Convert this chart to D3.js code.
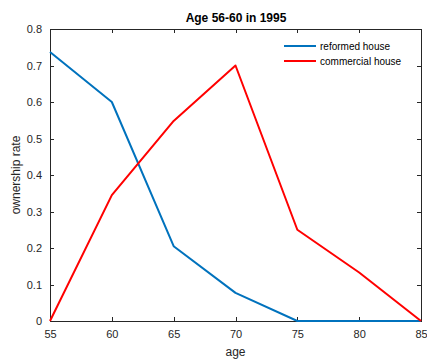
<!DOCTYPE html>
<html>
<head>
<meta charset="utf-8">
<script src="https://cdn.jsdelivr.net/npm/d3@7"></script>
<style>
  html, body { margin: 0; padding: 0; background: #fff; }
  svg { display: block; font-family: "Liberation Sans", Arial, Helvetica, sans-serif; }
</style>
</head>
<body>
<svg id="chart" width="427" height="362"></svg>
<script>
// Home ownership rate by age, cohort aged 56-60 in 1995
const ages = [55, 60, 65, 70, 75, 80, 85];
const reformed = [0.737, 0.600, 0.205, 0.077, 0.0, 0.0, 0.0];
const commercial = [0.0, 0.345, 0.548, 0.700, 0.250, 0.133, 0.0];
const seriesNames = ["reformed house", "commercial house"];
const seriesColors = ["#0072BD", "#FF0000"];
const xTicks = [55, 60, 65, 70, 75, 80, 85];
const yTicks = [0, 0.1, 0.2, 0.3, 0.4, 0.5, 0.6, 0.7, 0.8];

const svg = d3.select("#chart");
const m = { left: 50, right: 421, top: 29, bottom: 321 };
const axisColor = "#262626";

const x = d3.scaleLinear().domain([55, 85]).range([m.left, m.right]);
const y = d3.scaleLinear().domain([0, 0.8]).range([m.bottom, m.top]);

// box
svg.append("rect")
  .attr("x", m.left).attr("y", m.top)
  .attr("width", m.right - m.left).attr("height", m.bottom - m.top)
  .attr("fill", "#fff").attr("stroke", axisColor).attr("stroke-width", 1).attr("shape-rendering", "crispEdges");

const tickLen = 4;
function styleAxis(g) {
  g.select(".domain").remove();
  g.selectAll(".tick line").attr("stroke", axisColor).attr("shape-rendering", "crispEdges");
  g.selectAll(".tick text").attr("fill", axisColor).attr("font-size", 11).attr("font-family", "Liberation Sans, Arial, sans-serif");
}

// bottom and left axes with inward ticks
svg.append("g").attr("transform", `translate(0,${m.bottom})`)
  .call(d3.axisBottom(x).tickValues(xTicks).tickSizeInner(-tickLen).tickSizeOuter(0).tickPadding(9).tickFormat(d3.format("d")))
  .call(styleAxis);
svg.append("g").attr("transform", `translate(${m.left},0)`)
  .call(d3.axisLeft(y).tickValues(yTicks).tickSizeInner(-tickLen).tickSizeOuter(0).tickPadding(8).tickFormat(d => d === 0 ? "0" : d3.format(".1f")(d)))
  .call(styleAxis);
// top and right mirrored ticks
svg.append("g").attr("transform", `translate(0,${m.top})`)
  .call(d3.axisTop(x).tickValues(xTicks).tickSizeInner(-tickLen).tickSizeOuter(0).tickFormat(""))
  .call(styleAxis);
svg.append("g").attr("transform", `translate(${m.right},0)`)
  .call(d3.axisRight(y).tickValues(yTicks).tickSizeInner(-tickLen).tickSizeOuter(0).tickFormat(""))
  .call(styleAxis);

// lines
const line = d3.line().x((d, i) => x(ages[i])).y(d => y(d));
[reformed, commercial].forEach((vals, k) => {
  svg.append("path")
    .datum(vals)
    .attr("d", line)
    .attr("fill", "none")
    .attr("stroke", seriesColors[k])
    .attr("stroke-width", 2)
    .attr("stroke-linejoin", "round");
});

// title and axis labels
svg.append("text").attr("x", (m.left + m.right) / 2 + 0.5).attr("y", 22)
  .attr("text-anchor", "middle").attr("font-size", 12).attr("font-weight", "bold").attr("fill", "#000")
  .text("Age 56-60 in 1995");
svg.append("text").attr("x", (m.left + m.right) / 2).attr("y", 356)
  .attr("text-anchor", "middle").attr("font-size", 12).attr("fill", axisColor)
  .text("age");
svg.append("text").attr("transform", `translate(20,${(m.top + m.bottom) / 2}) rotate(-90)`)
  .attr("text-anchor", "middle").attr("font-size", 12).attr("fill", axisColor)
  .text("ownership rate");

// legend
const lg = svg.append("g");
seriesNames.forEach((name, k) => {
  const ly = 46 + k * 15;
  lg.append("line").attr("x1", 284).attr("x2", 316).attr("y1", ly).attr("y2", ly)
    .attr("stroke", seriesColors[k]).attr("stroke-width", 2);
  lg.append("text").attr("x", 320).attr("y", ly + 3.5).attr("font-size", 10).attr("fill", "#000")
    .text(name);
});
</script>
</body>
</html>
